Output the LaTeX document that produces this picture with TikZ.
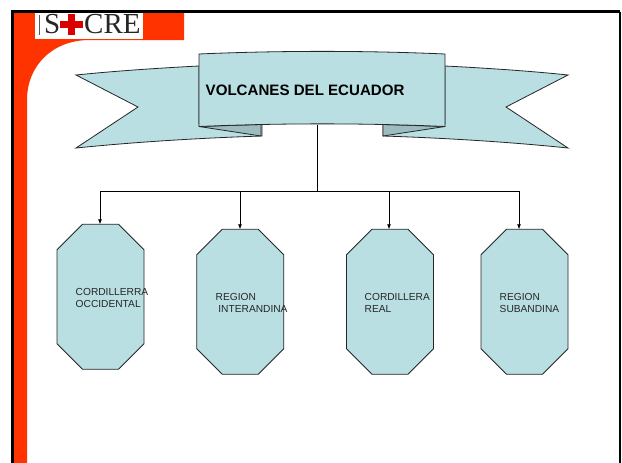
\documentclass[tikz,border=0pt]{standalone}
\usepackage{fontspec}
\setmainfont{Liberation Sans}
\newfontfamily\logofont{Liberation Serif}
\usetikzlibrary{arrows.meta}
\definecolor{panelblue}{HTML}{B9DFE3}
\definecolor{folddark}{HTML}{9DBCC0}
\definecolor{slidered}{HTML}{FF3300}
\tikzset{%
  >={Latex[width=4pt,length=5pt]},
  % Specifications for style of nodes:
  base/.style = {
    draw=black!85,
    fill=panelblue,
    line width=0.8pt,
  },
  region/.style={
    rectangle,
    minimum width=87pt,
    minimum height=145pt,
    inner sep=0pt,
    outer sep=0pt,
  },
  label/.style={
    anchor=west,
    align=left,
    inner sep=0pt,
    text=black!85,
    font=\fontsize{10.2}{12}\selectfont,
  },
  logotext/.style={
    anchor=base west,
    inner sep=0pt,
    text=black!85,
    font=\logofont\fontsize{29}{29}\selectfont,
  },
  wire/.style={line width=0.7pt},
}
% octagon round a region node
\newcommand{\regionoutline}[1]{%
  \filldraw[base] ([yshift=25.5pt]#1.south west) -- ([yshift=-25.5pt]#1.north west)
    -- ([xshift=25.5pt]#1.north west) -- ([xshift=-25.5pt]#1.north east)
    -- ([yshift=-25.5pt]#1.north east) -- ([yshift=25.5pt]#1.south east)
    -- ([xshift=-25.5pt]#1.south east) -- ([xshift=25.5pt]#1.south west) -- cycle;
}

\begin{document}
\begin{tikzpicture}[x=1pt, y=-1pt]
  \useasboundingbox (0,0) rectangle (622,463);
  % slide background
  \fill[white] (0,0) rectangle (622,463);
  \fill[slidered] (14,13) -- (184,13) -- (184,40) -- (90,40)
    .. controls (52,40) and (27,66) .. (27,100) -- (27,463) -- (14,463) -- cycle;
  \draw[line width=3pt] (12.5,463) -- (12.5,11.5) -- (620,11.5);
  \draw[line width=1.5pt] (620,11.5) -- (620,463);
  % logo
  \fill[white] (35,13) rectangle (143,39);
  \draw[black!65, line width=1pt] (39,15) -- (39,35);
  \node (logo_s) [logotext] at (44,34) {S};
  \node (logo_cre) [logotext] at (84,34) {CRE};
  \fill[red!85!black] (68,14) rectangle (75,35);
  \fill[red!85!black] (60,21) rectangle (83,28);
  % ribbon tails
  \filldraw[base] (199,66) .. controls (160,68) and (115,71) .. (76,75)
    -- (138,107) -- (76,148) .. controls (135,142) and (200,138) .. (262,136) -- (262,124) -- (199,124) -- cycle;
  \filldraw[base] (445,66) .. controls (485,68) and (530,71) .. (568,75)
    -- (506,107) -- (568,148) .. controls (510,142) and (445,138) .. (383,136) -- (383,124) -- (445,124) -- cycle;
  \filldraw[base, fill=folddark] (199,126.5) -- (261,136) -- (261,124.5) -- cycle;
  \filldraw[base, fill=folddark] (445,126.5) -- (383,136) -- (383,124.5) -- cycle;
  % ribbon panel
  \filldraw[base] (199,54) .. controls (280,50.5) and (365,50.5) .. (445,54)
    -- (445,126.5) .. controls (365,123) and (280,123) .. (199,126.5) -- cycle;
  % nodes
  \node (title) [anchor=west, inner sep=0pt, text=black,
    font=\bfseries\fontsize{15.1}{18}\selectfont] at (205.5,90) {VOLCANES DEL ECUADOR};
  \node (occidental) [region] at (100.5,296.75) {};
  \node (interandina) [region] at (240.25,301.75) {};
  \node (real) [region] at (390,301.75) {};
  \node (subandina) [region] at (524.5,301.75) {};
  \regionoutline{occidental}
  \regionoutline{interandina}
  \regionoutline{real}
  \regionoutline{subandina}
  \node (occidental_txt) [label] at (75.5,297.5) {CORDILLERRA\\OCCIDENTAL};
  \node (interandina_txt) [label] at (215.5,302.5) {REGION\\\hspace*{2.7pt}INTERANDINA};
  \node (real_txt) [label] at (364.5,302.5) {CORDILLERA\\REAL};
  \node (subandina_txt) [label] at (499.5,302.5) {REGION\\SUBANDINA};
  % lines
  \coordinate (banner_foot) at (317,124.5);
  \coordinate (trunk) at (317,191);
  \coordinate (drop_a) at (100,191);
  \coordinate (drop_b) at (240,191);
  \coordinate (drop_c) at (389,191);
  \coordinate (drop_d) at (519,191);
  \draw[wire] (banner_foot) -- (trunk);
  \draw[wire] (drop_a) -- (drop_d);
  \draw[wire, ->] (drop_a) -- (drop_a |- occidental.north);
  \draw[wire, ->] (drop_b) -- (drop_b |- interandina.north);
  \draw[wire, ->] (drop_c) -- (drop_c |- real.north);
  \draw[wire, ->] (drop_d) -- (drop_d |- subandina.north);
\end{tikzpicture}
\end{document}
